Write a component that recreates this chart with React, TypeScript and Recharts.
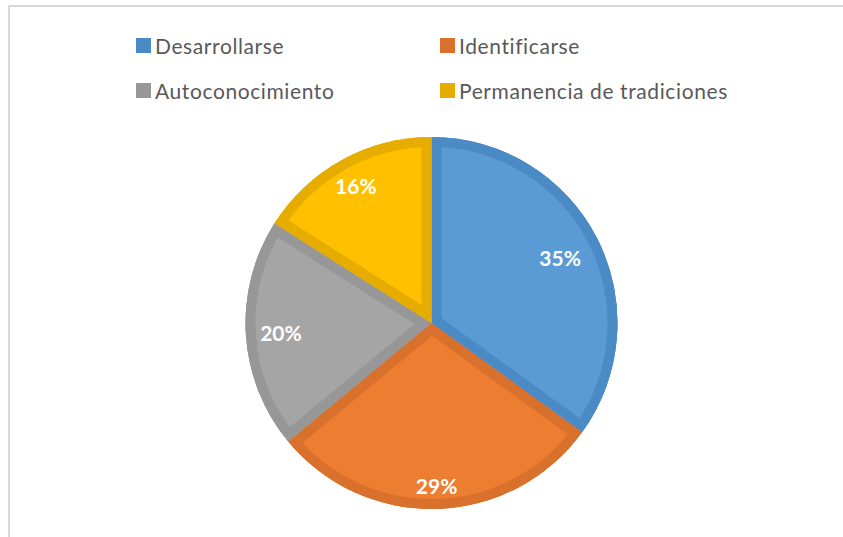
import React from 'react';
import { PieChart, Pie, Cell, Sector } from 'recharts';

const categories = ['Desarrollarse', 'Identificarse', 'Autoconocimiento', 'Permanencia de tradiciones'];
const percentages = [35, 29, 20, 16];
const fillColors = ['#5B9BD5', '#ED7D31', '#A5A5A5', '#FFC000'];
const edgeColors = ['#4B8BC5', '#D9712C', '#979797', '#E6AD00'];
const labelRadiusFactors = [0.776, 0.876, 0.811, 0.844];

const data = categories.map((name, i) => ({ name, value: percentages[i] }));

const RADIAN = Math.PI / 180;
const BORDER = 10;
const FONT = 'Lato, "Open Sans", sans-serif';

function renderSlice(props: any) {
  const { cx, cy, innerRadius, outerRadius, startAngle, endAngle, midAngle, index, percent } = props;
  const id = `slice-clip-${index}`;
  const r = outerRadius * labelRadiusFactors[index];
  const x = cx + r * Math.cos(-midAngle * RADIAN);
  const y = cy + r * Math.sin(-midAngle * RADIAN);
  return (
    <g key={`slice-${index}`}>
      <defs>
        <clipPath id={id}>
          <Sector cx={cx} cy={cy} innerRadius={innerRadius} outerRadius={outerRadius} startAngle={startAngle} endAngle={endAngle} />
        </clipPath>
      </defs>
      <g clipPath={`url(#${id})`}>
        <Sector
          cx={cx}
          cy={cy}
          innerRadius={innerRadius}
          outerRadius={outerRadius}
          startAngle={startAngle}
          endAngle={endAngle}
          fill={fillColors[index]}
          stroke={edgeColors[index]}
          strokeWidth={BORDER * 2}
        />
      </g>
      <text
        x={x}
        y={y}
        fill="#FFFFFF"
        textAnchor="middle"
        dominantBaseline="central"
        style={{ fontFamily: FONT, fontWeight: 700, fontSize: 21 }}
      >
        {`${Math.round(percent * 100)}%`}
      </text>
    </g>
  );
}

function ChartLegend() {
  return (
    <div style={{ position: 'absolute', left: 0, top: 0, width: 843, height: 110, fontFamily: FONT }}>
      {categories.map((name, i) => {
        const col = i % 2;
        const row = Math.floor(i / 2);
        const left = 136 + col * 304;
        const top = 45.5 + row * 45;
        return (
          <div key={name} style={{ position: 'absolute', left, top: top - 15, height: 30, display: 'flex', alignItems: 'center', whiteSpace: 'nowrap' }}>
            <div style={{ width: 15, height: 15, background: edgeColors[i], marginRight: 4 }} />
            <span style={{ fontSize: 21, letterSpacing: 0.6, color: '#595959', lineHeight: '30px' }}>{name}</span>
          </div>
        );
      })}
    </div>
  );
}

export default function App() {
  return (
    <div style={{ position: 'absolute', left: 0, top: 0, width: 843, height: 537, overflow: 'hidden', background: '#fff' }}>
      <div
        style={{
          position: 'absolute',
          left: 8,
          top: 5,
          width: 835,
          height: 532,
          borderTop: '2px solid #D9D9D9',
          borderLeft: '2px solid #D9D9D9',
          boxSizing: 'border-box',
        }}
      />
      <div style={{ position: 'absolute', left: 0, top: 0 }}>
        <PieChart width={843} height={537} margin={{ top: 0, right: 0, bottom: 0, left: 0 }}>
          <Pie
            data={data}
            dataKey="value"
            nameKey="name"
            cx={431.5}
            cy={323}
            innerRadius={0}
            outerRadius={186}
            startAngle={90}
            endAngle={-270}
            stroke="none"
            isAnimationActive={false}
            label={renderSlice}
            labelLine={false}
          >
            {data.map((d, i) => (
              <Cell key={d.name} fill={edgeColors[i]} stroke="none" />
            ))}
          </Pie>
        </PieChart>
      </div>
      <ChartLegend />
    </div>
  );
}
